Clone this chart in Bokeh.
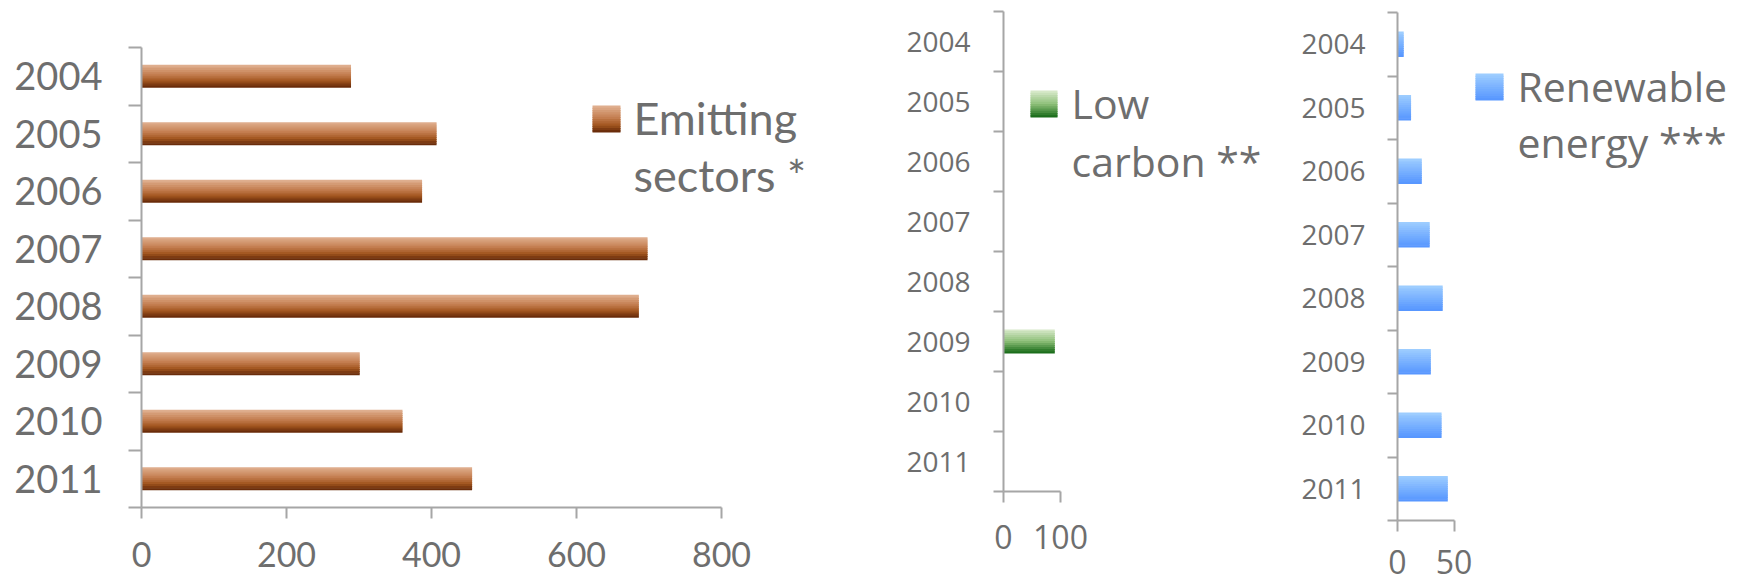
from bokeh.plotting import figure
from bokeh.layouts import row
from bokeh.models import Range1d, FixedTicker, Label, BoxAnnotation
from bokeh.embed import file_html
from bokeh.resources import INLINE

# ---------------- data ----------------
years = ["2004", "2005", "2006", "2007", "2008", "2009", "2010", "2011"]
emitting = [289, 407, 387, 698, 686, 301, 360, 456]
low_carbon = [0, 0, 0, 0, 0, 90, 0, 0]
renewable = [5.5, 12, 21.5, 28.5, 40, 29.5, 39, 44.5]
emit_ticks = [0, 200, 400, 600, 800]
low_ticks = [0, 100]
ren_ticks = [0, 50]
emit_legend = ["Emitting", "sectors *"]
low_legend = ["Low", "carbon **"]
ren_legend = ["Renewable", "energy ***"]

# ---------------- style ----------------
H = 582
AXIS = "#a6a6a6"
TXT = "#6e6e6e"
BROWN = [(0.0, "#dfae8e"), (0.45, "#c47e50"), (0.75, "#a2561f"), (1.0, "#6a2c0a")]
GREEN = [(0.0, "#d6e8c8"), (0.5, "#8fc07a"), (1.0, "#1c6e1c")]
BLUE = [(0.0, "#9dcdff"), (1.0, "#5897ff")]
NSTRIP = 12
BAR_FRAC = 0.40
LEG_SHIFT = 16   # label anchor correction (px)


def hx(c):
    return tuple(int(c[i:i + 2], 16) for i in (1, 3, 5))


def grad(stops, t):
    for (p0, c0), (p1, c1) in zip(stops[:-1], stops[1:]):
        if p0 <= t <= p1:
            f = (t - p0) / (p1 - p0) if p1 > p0 else 0
            a, b = hx(c0), hx(c1)
            return "#%02x%02x%02x" % tuple(round(a[i] + (b[i] - a[i]) * f) for i in range(3))
    return stops[-1][1]


def panel(values, ticks, stops, legend, cfg):
    W, x0 = cfg["W"], cfg["x0"]
    n = len(years)
    amax = ticks[-1]
    sx = cfg["axis_px"] / amax                 # px per value unit
    xs = -(cfg["FL"] - x0) / sx
    xe = xs + W / sx
    pc = (cfg["FB"] - cfg["FT"]) / n           # px per category
    ytop = -cfg["FT"] / pc
    ybot = n + (H - cfg["FB"]) / pc
    p = figure(width=W, height=H, x_range=Range1d(xs, xe), y_range=Range1d(ybot, ytop),
               output_backend="svg", toolbar_location=None,
               min_border_left=0, min_border_right=0,
               min_border_top=0, min_border_bottom=0)
    p.title.visible = False
    p.outline_line_color = None
    p.grid.visible = False
    p.background_fill_color = "white"
    p.border_fill_color = "white"

    centers = [i + 0.5 for i in range(n)]
    h = BAR_FRAC
    for k in range(NSTRIP):
        off = -h / 2 + (k + 0.5) * h / NSTRIP
        col = grad(stops, k / (NSTRIP - 1))
        hk = h / NSTRIP * (1.0 if k in (0, NSTRIP - 1) else 1.5)
        p.hbar(y=[c + off for c in centers], left=0, right=values,
               height=hk, fill_color=col, line_color=None)

    ya = p.yaxis[0]
    ya.fixed_location = 0
    ya.bounds = (0, n)
    ya.ticker = FixedTicker(ticks=centers, minor_ticks=list(range(n + 1)))
    ya.major_label_overrides = {c: y for c, y in zip(centers, years)}
    ya.major_tick_out = 0
    ya.major_tick_in = 0
    ya.minor_tick_in = 0
    ya.minor_tick_out = cfg["ytick"]
    ya.minor_tick_line_color = AXIS
    ya.minor_tick_line_width = 2
    ya.axis_line_color = AXIS
    ya.axis_line_width = 2
    ya.major_label_standoff = cfg["ystand"]
    ya.major_label_text_font = cfg["font"]
    ya.major_label_text_font_size = cfg["yfs"]
    ya.major_label_text_color = TXT

    xa = p.xaxis[0]
    xa.fixed_location = n
    xa.bounds = (0, amax)
    xa.ticker = FixedTicker(ticks=ticks, minor_ticks=[])
    xa.major_tick_out = 11
    xa.major_tick_in = 0
    xa.minor_tick_out = 0
    xa.minor_tick_in = 0
    xa.major_tick_line_color = AXIS
    xa.major_tick_line_width = 2
    xa.axis_line_color = AXIS
    xa.axis_line_width = 2
    xa.major_label_standoff = cfg["xstand"]
    xa.major_label_text_font = cfg["font"]
    xa.major_label_text_font_size = cfg["xfs"]
    xa.major_label_text_color = TXT

    # legend (screen units relative to the frame = whole figure; y up from bottom)
    sx0, sx1, sy0, sy1 = cfg["sw"]
    hh = (sy1 - sy0) / NSTRIP
    for k in range(NSTRIP):
        top = sy0 + k * hh
        bot = min(top + hh * 1.5, sy1)
        p.add_layout(BoxAnnotation(left=sx0 - x0, right=sx1 - x0,
                                   top=H - top, bottom=H - bot,
                                   left_units="screen", right_units="screen",
                                   top_units="screen", bottom_units="screen",
                                   fill_color=grad(stops, k / (NSTRIP - 1)), fill_alpha=1.0,
                                   line_color=None, level="overlay"))
    tx, b1, b2 = cfg["lt"]
    for txt, base in zip(legend, (b1, b2)):
        p.add_layout(Label(x=tx - x0, y=H - (base - LEG_SHIFT), x_units="screen", y_units="screen",
                           text=txt, text_font=cfg["font"], text_font_size=cfg["lfs"],
                           text_color=TXT, text_baseline="alphabetic", text_align="left"))
    return p


c1 = dict(x0=0, W=880, FL=141, FT=47, FB=507, axis_px=580,
          ytick=13, ystand=26, xstand=23, font="Lato", yfs="38px", xfs="34px",
          lfs="45px", sw=(592, 620, 105, 132), lt=(633, 133, 190))
c2 = dict(x0=880, W=400, FL=1003, FT=11, FB=491, axis_px=57,
          ytick=10, ystand=23, xstand=22, font="Open Sans", yfs="28px", xfs="32px",
          lfs="41px", sw=(1030, 1057, 90, 117), lt=(1071, 118, 176))
c3 = dict(x0=1280, W=458, FL=1397, FT=12, FB=520, axis_px=56.5,
          ytick=10, ystand=22, xstand=18, font="Open Sans", yfs="28px", xfs="32px",
          lfs="41px", sw=(1475, 1503, 73, 100), lt=(1517, 101, 157))

p1 = panel(emitting, emit_ticks, BROWN, emit_legend, c1)
p2 = panel(low_carbon, low_ticks, GREEN, low_legend, c2)
p3 = panel(renewable, ren_ticks, BLUE, ren_legend, c3)

layout = row(p1, p2, p3, spacing=0)
open("out.html", "w").write(file_html(layout, INLINE))
